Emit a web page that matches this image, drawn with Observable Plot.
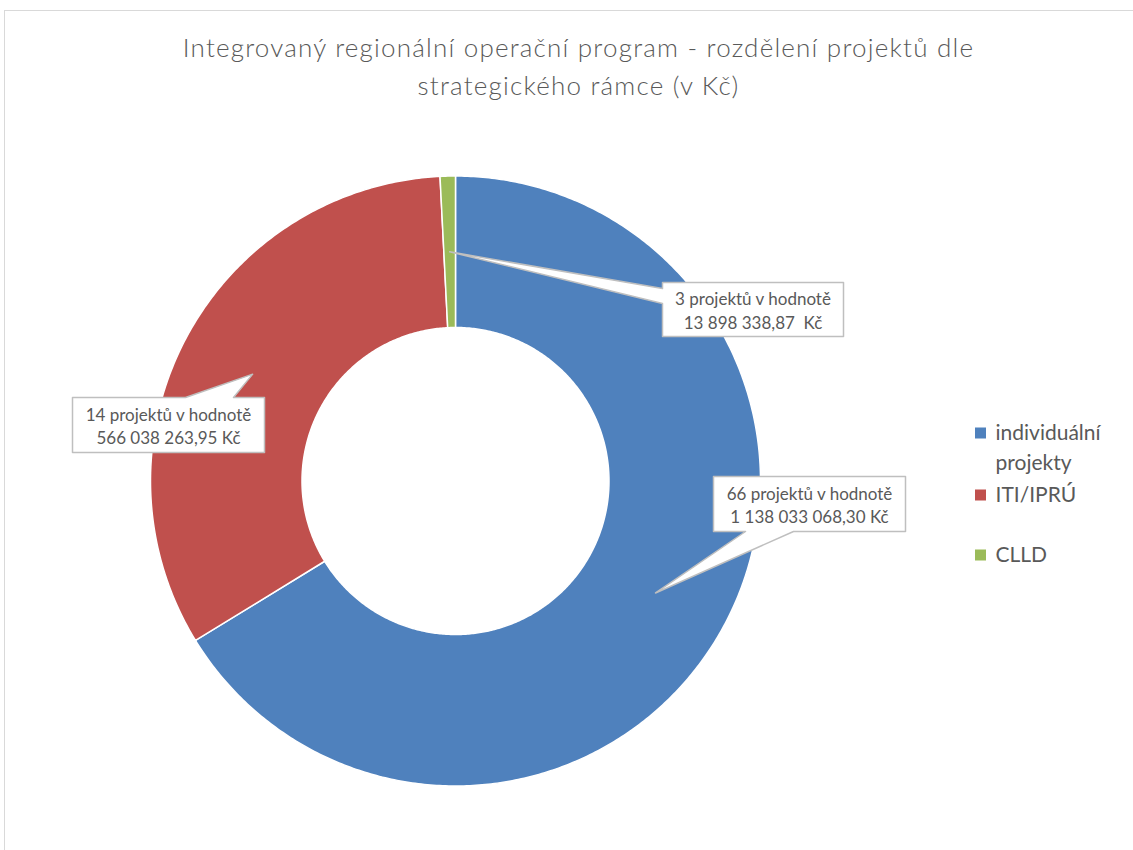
<!DOCTYPE html>
<html>
<head>
<meta charset="utf-8">
<script src="https://cdn.jsdelivr.net/npm/d3@7"></script>
<script src="https://cdn.jsdelivr.net/npm/@observablehq/plot@0.6"></script>
<style>
  html, body { margin: 0; padding: 0; background: #ffffff; }
  #wrap { position: relative; width: 1133px; height: 850px; overflow: hidden; font-family: Lato, "Open Sans", sans-serif; }
  #frame { position: absolute; left: 4px; top: 10px; width: 1200px; height: 900px; border: 1px solid #d9d9d9; box-sizing: border-box; }
  #title { position: absolute; left: 12px; width: 1133px; top: 28px; text-align: center; color: #595959; font-size: 26px; font-weight: 300; letter-spacing: 1.2px; line-height: 38px; }
  #chart { position: absolute; left: 0; top: 0; }
</style>
</head>
<body>
<div id="wrap">
  <div id="frame"></div>
  <div id="chart"></div>
  <div id="title"></div>
</div>
<script>
// ---- data ----
const categories = ["individuální projekty", "ITI/IPRÚ", "CLLD"];
const values = [1138033068.30, 566038263.95, 13898338.87];
const projectCounts = [66, 14, 3];
const valueLabels = ["1 138 033 068,30 Kč", "566 038 263,95 Kč", "13 898 338,87  Kč"];
const legendLabels = [["individuální", "projekty"], ["ITI/IPRÚ"], ["CLLD"]];
const titleLines = ["Integrovaný regionální operační program - rozdělení projektů dle", "strategického rámce (v Kč)"];

// ---- style / layout ----
const colors = ["#4f81bd", "#c0504d", "#9bbb59"];
const W = 1133, H = 850;
const cx = 455, cy = 480.5, R = 305, r0 = 153.5;
const textGray = "#595959";
const calloutBoxes = [
  {L: 713, T: 476, R: 905, B: 531, side: "bottom", t1: 745, t2: 793},
  {L: 72, T: 397, R: 264, B: 452, side: "top", t1: 185, t2: 233},
  {L: 662, T: 282, R: 843, B: 336, side: "left", t1: 288, t2: 303}
];
const legendX = 975, legendSq = 11;
const legendRowsY = [433, 495, 555];
const legendLineGap = 30;

document.getElementById("title").innerHTML = titleLines.join("<br>");

// ---- slices ----
const arcs = d3.pie().sort(null).value(d => d)(values);
const pt = (a, rad) => ({x: cx + rad * Math.sin(a), y: cy - rad * Math.cos(a)});
const slicePts = [];
arcs.forEach((a, i) => {
  const n = Math.max(4, Math.ceil((a.endAngle - a.startAngle) / 0.01));
  for (let k = 0; k <= n; k++) {
    const ang = a.startAngle + (a.endAngle - a.startAngle) * k / n;
    slicePts.push({cat: categories[i], ...pt(ang, R)});
  }
  for (let k = n; k >= 0; k--) {
    const ang = a.startAngle + (a.endAngle - a.startAngle) * k / n;
    slicePts.push({cat: categories[i], ...pt(ang, r0)});
  }
});

// ---- callouts (tip at slice mid-angle, mid ring) ----
const calloutPts = [];
const calloutText = [];
arcs.forEach((a, i) => {
  const tip = pt((a.startAngle + a.endAngle) / 2, (R + r0) / 2);
  const b = calloutBoxes[i];
  let poly;
  if (b.side === "bottom") {
    poly = [[b.L, b.T], [b.R, b.T], [b.R, b.B], [b.t2, b.B], [tip.x, tip.y], [b.t1, b.B], [b.L, b.B]];
  } else if (b.side === "top") {
    poly = [[b.L, b.T], [b.t1, b.T], [tip.x, tip.y], [b.t2, b.T], [b.R, b.T], [b.R, b.B], [b.L, b.B]];
  } else {
    poly = [[b.L, b.T], [b.R, b.T], [b.R, b.B], [b.L, b.B], [b.L, b.t2], [tip.x, tip.y], [b.L, b.t1]];
  }
  poly.forEach(([x, y]) => calloutPts.push({id: i, x, y}));
  calloutText.push({
    x: (b.L + b.R) / 2, y: (b.T + b.B) / 2,
    text: `${projectCounts[i]} projektů v hodnotě\n${valueLabels[i]}`
  });
});

// ---- legend ----
const legendSquares = categories.map((c, i) => ({cat: c, x1: legendX, x2: legendX + legendSq, y1: legendRowsY[i] - legendSq / 2, y2: legendRowsY[i] + legendSq / 2}));
const legendText = [];
legendLabels.forEach((lines, i) => lines.forEach((t, j) => legendText.push({x: legendX + 20, y: legendRowsY[i] + j * legendLineGap, text: t})));

const chart = Plot.plot({
  width: W, height: H, margin: 0,
  x: {domain: [0, W], range: [0, W], axis: null},
  y: {domain: [0, H], range: [0, H], axis: null},
  color: {domain: categories, range: colors},
  style: {fontFamily: "Lato, 'Open Sans', sans-serif", background: "transparent"},
  marks: [
    Plot.line(slicePts, {x: "x", y: "y", z: "cat", fill: "cat", stroke: "white", strokeWidth: 1.5, curve: "linear-closed"}),
    Plot.line(calloutPts, {x: "x", y: "y", z: "id", fill: "white", stroke: "#bfbfbf", strokeWidth: 1.5, curve: "linear-closed"}),
    Plot.text(calloutText, {x: "x", y: "y", text: "text", fill: textGray, fontSize: 17, lineHeight: 1.38, lineAnchor: "middle", textAnchor: "middle", style: "letter-spacing:-0.3px"}),
    Plot.rect(legendSquares, {x1: "x1", x2: "x2", y1: "y1", y2: "y2", fill: "cat"}),
    Plot.text(legendText, {x: "x", y: "y", text: "text", fill: textGray, fontSize: 21, textAnchor: "start", lineAnchor: "middle"})
  ]
});
document.getElementById("chart").appendChild(chart);
</script>
</body>
</html>
